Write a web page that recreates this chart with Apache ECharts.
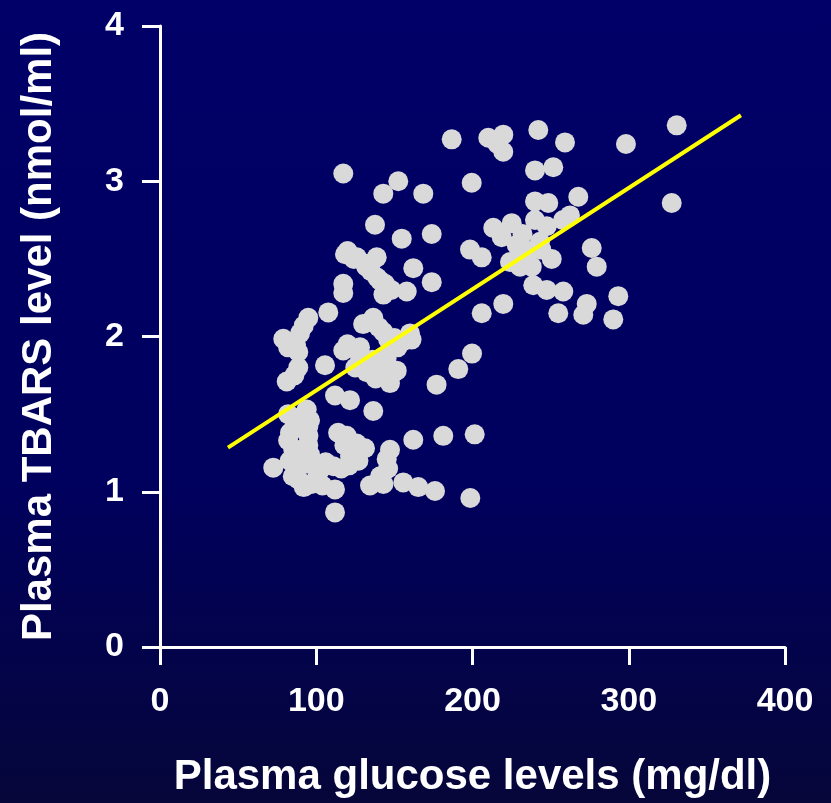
<!DOCTYPE html>
<html>
<head>
<meta charset="utf-8">
<script src="https://cdn.jsdelivr.net/npm/echarts@6/dist/echarts.min.js"></script>
<style>
  html, body { margin: 0; padding: 0; background: #000060; }
  #chart { width: 831px; height: 803px; }
</style>
</head>
<body>
<div id="chart"></div>
<script>
// Plasma glucose (mg/dl) vs plasma TBARS (nmol/ml), one pair per subject
const glucose = [
  330.7, 298.2, 327.5, 242.1, 259.2, 251.7, 240.0, 186.7, 210.1, 219.7, 219.7, 199.5,
  240.0, 248.5, 267.7, 262.4, 240.0, 247.5, 225.1, 213.3, 218.7, 228.3, 243.2, 198.4,
  205.9, 230.4, 237.9, 250.7, 276.3, 279.5, 238.9, 247.5, 258.1, 293.3, 273.1, 270.9,
  219.7, 205.9, 254.9, 290.1, 216.0, 232.0, 236.0, 244.0, 224.0, 233.0, 258.0,
  117.3, 152.5, 142.9, 168.5, 137.6, 154.7, 173.9, 118.4, 124.0, 138.7, 162.1, 173.9,
  117.3, 117.3, 140.8, 143.0, 157.9, 132.0, 120.0, 126.0, 131.0, 135.0, 139.0, 144.0,
  148.0,
  107.7, 94.9, 78.9, 89.6, 88.5, 88.5, 81.1, 105.6, 117.3, 128.0, 136.5, 142.9,
  155.7, 150.0, 161.0, 132.3, 141.9, 151.5, 147.2, 112.0, 121.6, 136.5, 177.0, 190.9,
  199.7, 87.0, 86.0, 82.0, 92.0, 130.0, 140.0, 146.0, 152.0, 160.0, 128.0, 136.0,
  145.0, 148.0, 138.0, 125.0, 120.0,
  181.3, 162.1, 201.4, 72.5, 85.3, 93.9, 83.2, 94.9, 85.3, 94.9, 89.6, 88.5,
  97.1, 102.4, 110.9, 121.6, 119.5, 125.9, 131.2, 112.0, 112.0, 134.4, 140.8, 145.1,
  147.2, 155.7, 165.3, 176.0, 198.6, 82.0, 86.0, 90.0, 96.0, 82.0, 95.0, 90.0,
  96.0, 83.0, 95.0, 85.0, 92.0, 100.0, 104.0, 100.0, 106.0, 116.0, 121.0, 127.0,
  125.0, 118.0, 114.0, 146.0, 143.0
];
const tbars = [
  3.36, 3.24, 2.86, 3.33, 3.25, 3.09, 3.07, 3.27, 3.28, 3.30, 3.19, 2.99,
  2.87, 2.86, 2.90, 2.78, 2.75, 2.71, 2.73, 2.70, 2.64, 2.59, 2.61, 2.56,
  2.51, 2.45, 2.45, 2.50, 2.57, 2.45, 2.33, 2.30, 2.29, 2.26, 2.21, 2.14,
  2.21, 2.15, 2.15, 2.11, 3.24, 2.66, 2.55, 2.56, 2.48, 2.52, 2.75,
  3.05, 3.00, 2.92, 2.92, 2.72, 2.63, 2.66, 2.53, 2.50, 2.51, 2.44, 2.35,
  2.34, 2.28, 2.36, 2.27, 2.29, 2.45, 2.55, 2.51, 2.47, 2.42, 2.38, 2.34,
  2.30,
  2.155, 2.12, 1.985, 2.02, 1.90, 1.80, 1.71, 1.815, 1.91, 1.93, 2.12, 2.03,
  1.97, 1.99, 1.98, 1.77, 1.80, 1.78, 1.70, 1.62, 1.59, 1.52, 1.69, 1.79,
  1.89, 1.95, 1.75, 1.93, 2.07, 2.08, 2.06, 1.98, 1.93, 2.02, 1.87, 1.85,
  1.86, 1.75, 1.73, 1.80, 1.95,
  1.36, 1.335, 1.37, 1.155, 1.48, 1.53, 1.38, 1.42, 1.27, 1.30, 1.19, 1.08,
  1.05, 1.14, 1.165, 1.23, 1.36, 1.31, 1.28, 1.015, 0.867, 1.04, 1.10, 1.21,
  1.27, 1.06, 1.03, 1.005, 0.96, 1.50, 1.42, 1.47, 1.46, 1.33, 1.36, 1.27,
  1.24, 1.20, 1.18, 1.10, 1.03, 1.08, 1.04, 1.16, 1.19, 1.15, 1.17, 1.20,
  1.26, 1.30, 1.38, 1.15, 1.05
];

// Least-squares fit drawn across the observed glucose range
const fitX = [43.5, 371.8];
const fitY = [1.284, 3.425];

const xTicks = [0, 100, 200, 300, 400];
const yTicks = [0, 1, 2, 3, 4];

const points = glucose.map((g, i) => [g, tbars[i]]);
const fitLine = fitX.map((g, i) => [g, fitY[i]]);

const chart = echarts.init(document.getElementById('chart'), null, { renderer: 'canvas' });
const labelFont = { color: '#ffffff', fontFamily: 'Liberation Sans, Arial, sans-serif', fontWeight: 'bold', fontSize: 34 };

chart.setOption({
  animation: false,
  backgroundColor: {
    type: 'linear', x: 0, y: 0, x2: 0, y2: 1,
    colorStops: [
      { offset: 0, color: '#000068' },
      { offset: 0.6, color: '#00005e' },
      { offset: 1, color: '#06063a' }
    ]
  },
  grid: { left: 160, right: 46, top: 26, bottom: 155, containLabel: false },
  xAxis: {
    type: 'value', min: xTicks[0], max: xTicks[xTicks.length - 1], interval: 100,
    name: 'Plasma glucose levels (mg/dl)', nameLocation: 'middle', nameGap: 109,
    nameTextStyle: { color: '#ffffff', fontFamily: 'Liberation Sans, Arial, sans-serif', fontWeight: 'bold', fontSize: 42 },
    axisLine: { onZero: false, lineStyle: { color: '#ffffff', width: 3 } },
    axisTick: { show: true, length: 18, lineStyle: { color: '#ffffff', width: 3 } },
    axisLabel: Object.assign({ margin: 38 }, labelFont),
    splitLine: { show: false }
  },
  yAxis: {
    type: 'value', min: yTicks[0], max: yTicks[yTicks.length - 1], interval: 1,
    name: 'Plasma TBARS level (nmol/ml)', nameLocation: 'middle', nameGap: 100, nameRotate: 90,
    nameTextStyle: { color: '#ffffff', fontFamily: 'Liberation Sans, Arial, sans-serif', fontWeight: 'bold', fontSize: 42 },
    axisLine: { show: true, onZero: false, lineStyle: { color: '#ffffff', width: 3 } },
    axisTick: { show: true, length: 18, lineStyle: { color: '#ffffff', width: 3 } },
    axisLabel: Object.assign({ margin: 36 }, labelFont),
    splitLine: { show: false }
  },
  series: [
    {
      type: 'scatter',
      data: points,
      symbol: 'circle',
      symbolSize: 20,
      itemStyle: { color: '#d9d9d9', opacity: 1 },
      z: 2
    },
    {
      type: 'line',
      data: fitLine,
      symbol: 'none',
      lineStyle: { color: '#ffff00', width: 4 },
      z: 3
    }
  ]
});
</script>
</body>
</html>
